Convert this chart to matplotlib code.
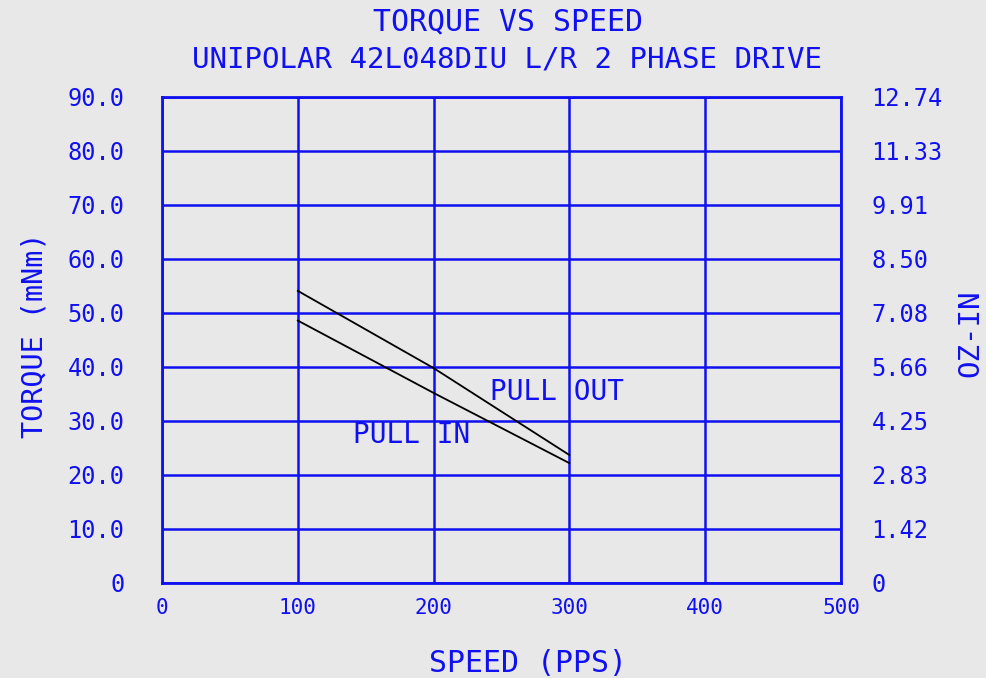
import numpy as np
import matplotlib
matplotlib.use("Agg")
import matplotlib.pyplot as plt

# data
speed = [100, 200, 300]
pull_out = [54.1, 39.8, 23.7]
pull_in = [48.6, 35.2, 22.2]

x_ticks = [0, 100, 200, 300, 400, 500]
y_ticks = [0, 10, 20, 30, 40, 50, 60, 70, 80, 90]
y_labels = ["0", "10.0", "20.0", "30.0", "40.0", "50.0", "60.0", "70.0", "80.0", "90.0"]
oz_labels = ["0", "1.42", "2.83", "4.25", "5.66", "7.08", "8.50", "9.91", "11.33", "12.74"]

blue = "#1010f0"
bg = "#e8e8e8"
font = "DejaVu Sans Mono"

plt.rcParams['font.family'] = font

fig = plt.figure(figsize=(9.87, 6.78), dpi=100, facecolor=bg)
ax = fig.add_axes([162 / 987, 1 - 583 / 678, (841 - 162) / 987, (583 - 97) / 678])
ax.set_facecolor(bg)

ax.plot(speed, pull_out, color="black", lw=1.3)
ax.plot(speed, pull_in, color="black", lw=1.3)

ax.set_xlim(0, 500)
ax.set_ylim(0, 90)
ax.set_xticks(x_ticks)
ax.set_xticklabels([str(v) for v in x_ticks], fontsize=15, color=blue)
ax.set_yticks(y_ticks)
ax.set_yticklabels(y_labels, fontsize=17, color=blue)
ax.tick_params(axis="x", length=0, pad=11)
ax.tick_params(axis="y", length=0, pad=27)
ax.grid(True, color=blue, lw=1.8)
for s in ax.spines.values():
    s.set_color(blue)
    s.set_linewidth(2)

# right axis in oz-in
ax2 = ax.twinx()
ax2.set_ylim(0, 90)
ax2.set_yticks(y_ticks)
ax2.set_yticklabels(oz_labels, fontsize=17, color=blue)
ax2.tick_params(axis="y", length=0, pad=22)
for s in ax2.spines.values():
    s.set_visible(False)

ax.text(291, 35.4, "PULL OUT", fontsize=20, color=blue, ha="center", va="center")
ax.text(184, 27.4, "PULL IN", fontsize=20, color=blue, ha="center", va="center")

fig.text(508 / 987, 1 - 22 / 678, "TORQUE VS SPEED", fontsize=21.5, color=blue, ha="center", va="center")
fig.text(507 / 987, 1 - 60 / 678, "UNIPOLAR 42L048DIU L/R 2 PHASE DRIVE", fontsize=21, color=blue,
         ha="center", va="center")
fig.text(528 / 987, 1 - 663 / 678, "SPEED (PPS)", fontsize=21.5, color=blue, ha="center", va="center")
fig.text(35 / 987, 1 - 335 / 678, "TORQUE (mNm)", fontsize=20.5, color=blue, ha="center", va="center",
         rotation=90)
fig.text(970 / 987, 1 - 333 / 678, "OZ-IN", fontsize=21, color=blue, ha="center", va="center",
         rotation=90)

fig.savefig("out.png", dpi=100, facecolor=bg)
